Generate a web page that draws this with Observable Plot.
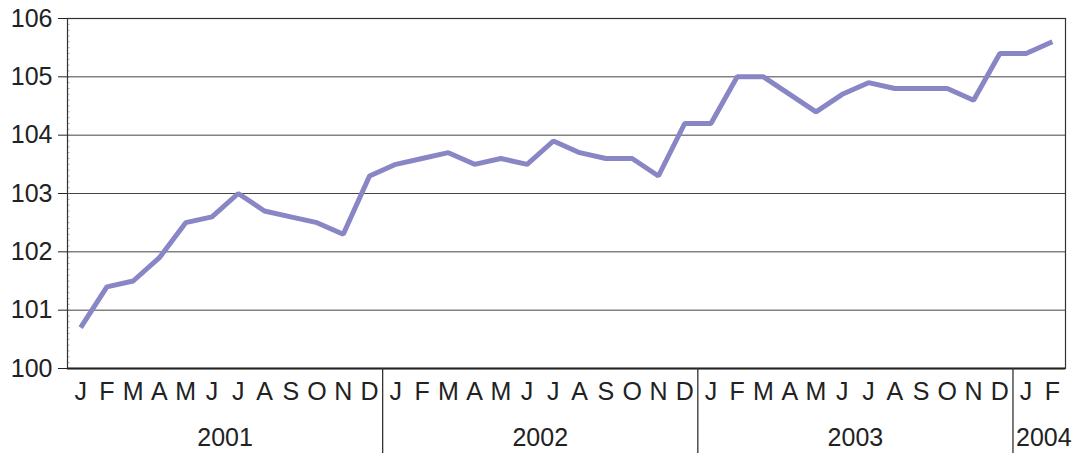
<!DOCTYPE html>
<html><head><meta charset="utf-8">
<script src="https://cdn.jsdelivr.net/npm/d3@7"></script>
<script src="https://cdn.jsdelivr.net/npm/@observablehq/plot@0.6"></script>
<style>
body{margin:0;background:#fff}
#chart svg{display:block}
</style>
</head><body><div id="chart"></div>
<script>
const monthLetters = ["J","F","M","A","M","J","J","A","S","O","N","D"];
const years = ["2001","2002","2003","2004"];
const monthsPerYear = [12, 12, 12, 2];
const values = [
  100.7, 101.4, 101.5, 101.9, 102.5, 102.6, 103.0, 102.7, 102.6, 102.5, 102.3, 103.3,
  103.5, 103.6, 103.7, 103.5, 103.6, 103.5, 103.9, 103.7, 103.6, 103.6, 103.3, 104.2,
  104.2, 105.0, 105.0, 104.7, 104.4, 104.7, 104.9, 104.8, 104.8, 104.8, 104.6, 105.4,
  105.4, 105.6
];
const yTicks = [100, 101, 102, 103, 104, 105, 106];

const W = 1081, H = 455;
const mL = 67, mR = 16, mT = 18, mB = 87;
const yMin = yTicks[0], yMax = yTicks[yTicks.length - 1];
const unitPx = (H - mT - mB) / (yMax - yMin);
const sepBottom = yMin - 85 / unitPx;

const n = values.length;
const data = values.map((v, i) => ({i, v}));
let s = 0;
const groups = years.map((y, k) => {
  const g = {year: y, start: s, end: s + monthsPerYear[k] - 1, count: monthsPerYear[k]};
  s += monthsPerYear[k];
  return g;
});
const separators = groups.slice(1).map(g => g.start - 0.5);
const wideGroups = groups.filter(g => g.count >= 3);
const narrowGroups = groups.filter(g => g.count < 3);

const font = "'Liberation Sans', Arial, Helvetica, sans-serif";
const ink = "#222";

const chart = Plot.plot({
  width: W, height: H,
  marginLeft: mL, marginRight: mR, marginTop: mT, marginBottom: mB,
  style: {fontFamily: font, color: ink, background: "#fff", overflow: "visible"},
  x: {type: "linear", domain: [-0.5, n - 0.5], axis: null},
  y: {domain: [yMin, yMax], axis: null},
  marks: [
    Plot.ruleY(yTicks.slice(1, -1), {stroke: "#444", strokeWidth: 1}),
    Plot.axisY(d3.range(yMin, yMax, 0.1), {tickSize: -2.5, text: null, label: null, stroke: "#777", strokeWidth: 0.6}),
    Plot.axisY(yTicks, {tickSize: 9, tickPadding: 6, fontSize: 25, stroke: ink, fill: ink,
      label: null, tickFormat: d => String(d)}),
    Plot.axisX(d3.range(n), {tickSize: 0, tickPadding: 14, fontSize: 25, fill: ink, label: null,
      tickFormat: i => monthLetters[i % 12]}),
    Plot.frame({stroke: "#333", strokeWidth: 1.2}),
    Plot.ruleY([yMin], {stroke: "#222", strokeWidth: 2}),
    Plot.ruleX(separators, {y1: yMin, y2: sepBottom, stroke: "#333", strokeWidth: 1.3}),
    Plot.text(wideGroups, {x: g => (g.start + g.end) / 2, y: () => yMin, text: "year",
      dy: 60, lineAnchor: "top", fontSize: 25, fill: ink}),
    Plot.text(narrowGroups, {x: g => g.start - 0.5, y: () => yMin, text: "year",
      dy: 60, dx: 3, textAnchor: "start", lineAnchor: "top", fontSize: 25, fill: ink}),
    Plot.line(data, {x: "i", y: "v", stroke: "#8886c4", strokeWidth: 5, strokeLinejoin: "miter", strokeLinecap: "butt"})
  ]
});
document.getElementById("chart").appendChild(chart);
</script>
</body></html>
